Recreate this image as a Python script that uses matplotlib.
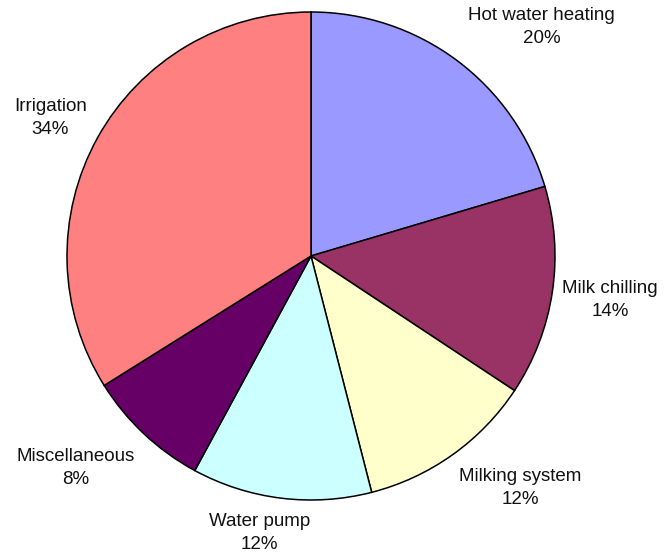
import matplotlib
matplotlib.use("Agg")
import matplotlib.pyplot as plt

plt.rcParams['font.family'] = ['Liberation Sans', 'DejaVu Sans']

# energy use shares (%)
categories = ["Hot water heating", "Milk chilling", "Milking system",
              "Water pump", "Miscellaneous", "Irrigation"]
shares = [20.4, 13.9, 11.7, 11.9, 8.2, 33.9]
colors = ["#9999FF", "#993366", "#FFFFCC", "#CCFFFF", "#660066", "#FF8080"]

# label centres in pie-radius units (Excel style placement)
label_pos = [(0.945, 0.939), (1.225, -0.180), (0.859, -0.951),
             (-0.211, -1.135), (-0.965, -0.869), (-1.068, 0.566)]

fig = plt.figure(figsize=(6.67, 5.6), dpi=100)
ax = fig.add_axes([67 / 667, 60 / 560, 488 / 667, 488 / 560])

wedges, _ = ax.pie(shares, colors=colors, startangle=90, counterclock=False,
                   radius=1.0, wedgeprops=dict(edgecolor="black", linewidth=1.1))

total = sum(shares)
for name, val, (x, y) in zip(categories, shares, label_pos):
    ax.text(x, y, f"{name}\n{val / total * 100:.0f}%", ha="center", va="center",
            fontsize=13.5, clip_on=False, linespacing=1.45, color="#111111")

ax.set_xlim(-1, 1)
ax.set_ylim(-1, 1)
ax.set_aspect("equal")
ax.axis("off")

fig.savefig("out.png", dpi=100)
